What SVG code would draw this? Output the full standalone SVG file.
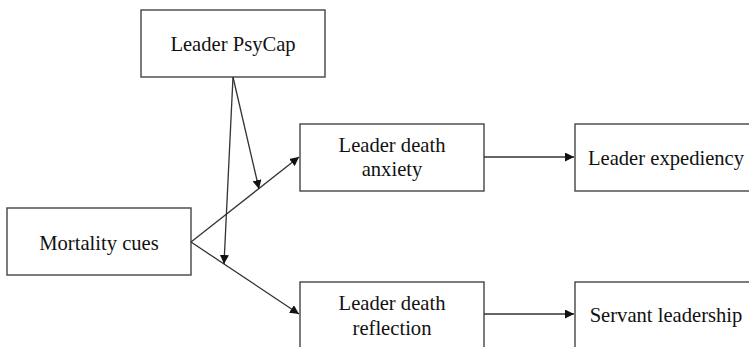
<svg xmlns="http://www.w3.org/2000/svg" width="749" height="347" viewBox="0 0 749 347">
<style>
.box{fill:#fff;stroke:#444;stroke-width:1.4}
.t{font-family:"Liberation Serif","Times New Roman",serif;font-size:20.6px;fill:#111;text-anchor:middle}
.c{fill:none;stroke:#333;stroke-width:1.3}
</style>
<defs>
<marker id="ah" viewBox="0 0 10 10" refX="10" refY="5" markerWidth="9" markerHeight="9" markerUnits="userSpaceOnUse" orient="auto">
<path d="M0,0 L10,5 L0,10 z" fill="#111"/>
</marker>
</defs>
<rect width="749" height="347" fill="#fff"/>
<g id="psycap"><rect class="box" x="141" y="10" width="184" height="67"/><text class="t" x="233" y="51">Leader PsyCap</text></g>
<g id="mortality"><rect class="box" x="7" y="208" width="184" height="67"/><text class="t" x="99" y="250">Mortality cues</text></g>
<g id="anxiety"><rect class="box" x="300" y="124" width="184" height="67"/><text class="t" x="392" y="152">Leader death</text><text class="t" x="392" y="176">anxiety</text></g>
<g id="reflection"><rect class="box" x="300" y="282" width="184" height="80"/><text class="t" x="392" y="310">Leader death</text><text class="t" x="392" y="335">reflection</text></g>
<g id="expediency"><rect class="box" x="575" y="124" width="190" height="67"/><text class="t" x="666" y="165">Leader expediency</text></g>
<g id="servant"><rect class="box" x="575" y="282" width="190" height="80"/><text class="t" x="666" y="322">Servant leadership</text></g>
<g id="connectors">
<line class="c" x1="191" y1="242" x2="299" y2="157" marker-end="url(#ah)"/>
<line class="c" x1="191" y1="242" x2="299" y2="314" marker-end="url(#ah)"/>
<line class="c" x1="484" y1="157" x2="574" y2="157" marker-end="url(#ah)"/>
<line class="c" x1="484" y1="314" x2="574" y2="314" marker-end="url(#ah)"/>
<line class="c" x1="233" y1="77" x2="259" y2="189" marker-end="url(#ah)"/>
<line class="c" x1="233" y1="77" x2="224" y2="264" marker-end="url(#ah)"/>
</g>
</svg>
